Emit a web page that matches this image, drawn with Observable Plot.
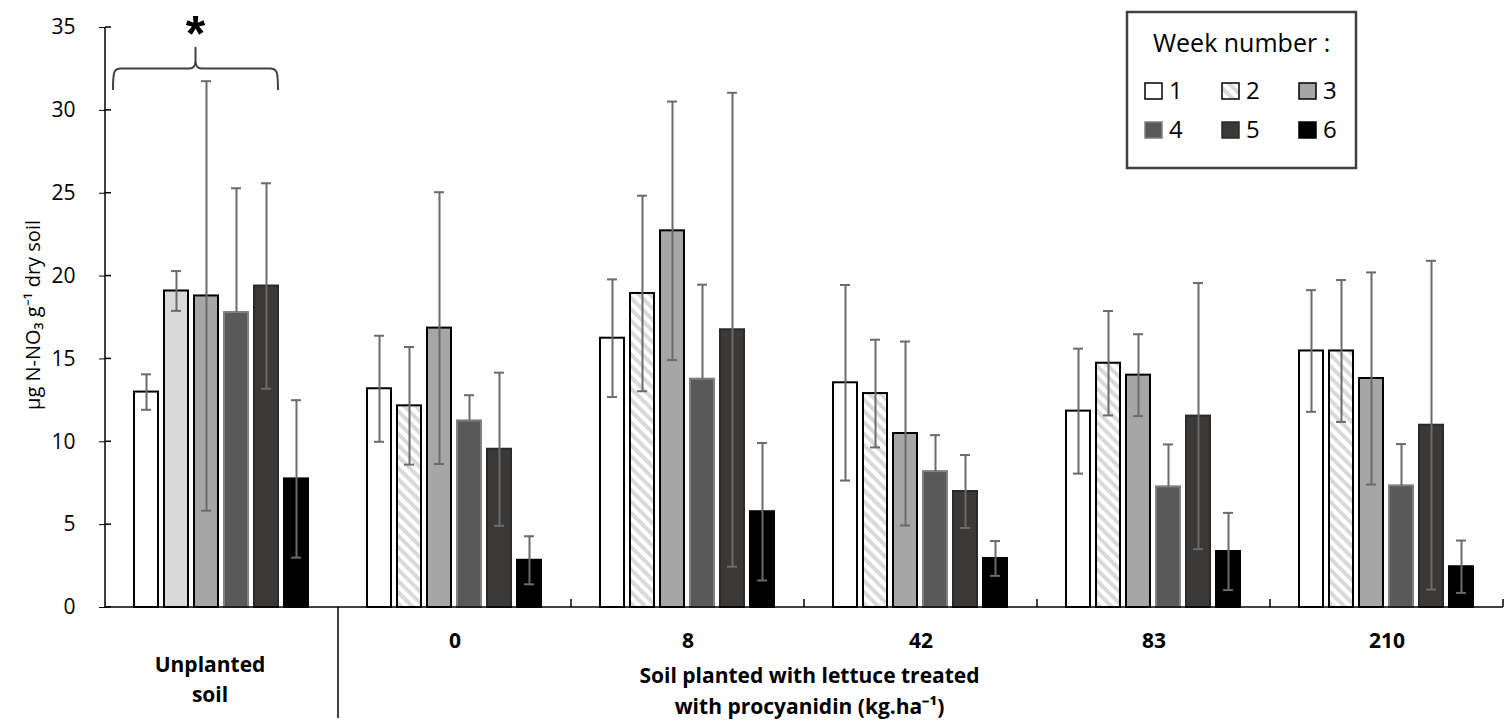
<!DOCTYPE html>
<html><head><meta charset="utf-8">
<script src="https://cdn.jsdelivr.net/npm/d3@7"></script>
<script src="https://cdn.jsdelivr.net/npm/@observablehq/plot@0.6"></script>
<style>
html,body{margin:0;padding:0;background:#fff;}
#chart{position:relative;width:1511px;height:728px;}
</style></head><body><div id="chart"></div>
<script>
// ---- data ----
const groups = ["Unplanted", "0", "8", "42", "83", "210"];
const weeks = [1, 2, 3, 4, 5, 6];
const unplantedMean = [13.0, 19.1, 18.8, 17.8, 19.4, 7.76];
const dose0Mean     = [13.2, 12.17, 16.86, 11.26, 9.55, 2.85];
const dose8Mean     = [16.25, 18.95, 22.73, 13.78, 16.76, 5.78];
const dose42Mean    = [13.56, 12.91, 10.5, 8.2, 7.0, 2.96];
const dose83Mean    = [11.85, 14.74, 14.02, 7.28, 11.55, 3.38];
const dose210Mean   = [15.48, 15.48, 13.82, 7.34, 11.0, 2.46];
const unplantedErr = [1.07, 1.2, 12.96, 7.5, 6.2, 4.75];
const dose0Err     = [3.2, 3.55, 8.2, 1.55, 4.62, 1.45];
const dose8Err     = [3.55, 5.9, 7.8, 5.7, 14.3, 4.15];
const dose42Err    = [5.9, 3.25, 5.55, 2.2, 2.2, 1.05];
const dose83Err    = [3.77, 3.15, 2.47, 2.56, 8.03, 2.33];
const dose210Err   = [3.67, 4.28, 6.4, 2.52, 9.92, 1.58];
const yTicks = [0, 5, 10, 15, 20, 25, 30, 35];
const unplantedLabel = "Unplanted\nsoil";
const doseLabels = ["0", "8", "42", "83", "210"];
const plantedTitle = "Soil planted with lettuce treated\nwith procyanidin (kg.ha\u207B\u00B9)";
const yLabel = "\u00B5g N-NO\u2083 g\u207B\u00B9 dry soil";
const legendTitle = "Week number :";
const significance = "*";

// ---- table ----
const means = [unplantedMean, dose0Mean, dose8Mean, dose42Mean, dose83Mean, dose210Mean];
const errs = [unplantedErr, dose0Err, dose8Err, dose42Err, dose83Err, dose210Err];
const rows = groups.flatMap((g, i) => weeks.map((w, j) => ({group: g, week: w, value: means[i][j], err: errs[i][j]})));

const weekFill = {1: "#ffffff", 2: "url(#hatch)", 3: "#a6a6a6", 4: "#595959", 5: "#3a3937", 6: "#000000"};
const weekStroke = {1: "#000000", 2: "#000000", 3: "#000000", 4: "#808080", 5: "#2a2a2a", 6: "#000000"};
const fillOf = d => (d.group === "Unplanted" && d.week === 2) ? "#d9d9d9" : weekFill[d.week];
const errColor = "#6b6b6b";

const chart = Plot.plot({
  width: 1511, height: 728,
  marginLeft: 105, marginRight: 8, marginTop: 27, marginBottom: 121,
  style: {fontFamily: "'Open Sans', sans-serif", fontSize: "21px", color: "#000", background: "#fff"},
  fx: {domain: groups, padding: 0, axis: null, label: null},
  x: {domain: weeks, paddingInner: 6 / 31, paddingOuter: 0.855, axis: null},
  y: {domain: [0, 35], ticks: yTicks, tickSize: 6, tickPadding: 24, label: null, tickFormat: d => String(d)},
  color: {type: "identity"},
  marks: [
    Plot.barY(rows, {fx: "group", x: "week", y: "value", fill: fillOf, stroke: d => weekStroke[d.week], strokeWidth: 2}),
    Plot.ruleX(rows, {fx: "group", x: "week", y1: d => d.week === 4 ? d.value : d.value - d.err, y2: d => d.value + d.err, stroke: errColor, strokeWidth: 2}),
    Plot.tickY(rows, {fx: "group", x: "week", y: d => d.value + d.err, stroke: errColor, strokeWidth: 2, insetLeft: 7, insetRight: 7}),
    Plot.tickY(rows.filter(d => d.week !== 4), {fx: "group", x: "week", y: d => d.value - d.err, stroke: errColor, strokeWidth: 2, insetLeft: 7, insetRight: 7}),
    Plot.text([{group: "Unplanted", label: unplantedLabel}], {fx: "group", text: "label", frameAnchor: "bottom", lineAnchor: "top", dy: 44, dx: -12, fontWeight: "bold", fontSize: 22, lineHeight: 1.4, fill: "#000"}),
    Plot.text(doseLabels.map(l => ({group: l, label: l})), {fx: "group", text: "label", frameAnchor: "bottom", lineAnchor: "top", dy: 26, fontWeight: "bold", fontSize: 21, fill: "#000"}),
    Plot.text([{group: "8", label: plantedTitle}], {fx: "group", text: "label", frameAnchor: "bottom-right", textAnchor: "middle", lineAnchor: "top", dy: 53, dx: 5, fontWeight: "bold", fontSize: 21, lineHeight: 1.5, fill: "#000"})
  ]
});
document.getElementById("chart").appendChild(chart);

// ---- scale helpers ----
function scaleFn(name) {
  const s = chart.scale(name);
  if (s.apply) return v => s.apply(v);
  if (s.type === "band" || s.type === "point") {
    const b = d3.scaleBand(s.domain, s.range);
    if (s.paddingInner != null) b.paddingInner(s.paddingInner);
    if (s.paddingOuter != null) b.paddingOuter(s.paddingOuter);
    if (s.align != null) b.align(s.align);
    return b;
  }
  return d3.scaleLinear(s.domain, s.range);
}
const fxS = chart.scale("fx"), xS = chart.scale("x");
const fxf = scaleFn("fx"), xf = scaleFn("x"), yf = scaleFn("y");
const bw = xS.bandwidth;
const barLeft = (g, w) => fxf(g) + xf(w) - xS.range[0];

const svg = d3.select(chart);
// enlarge y-axis tick labels (all texts lying in the left margin)
svg.selectAll("text").each(function () {
  const b = this.getBBox();
  if (b.x + b.width < 100) {
    this.style.setProperty("font-size", "21px", "important");
    if (this.parentNode) this.parentNode.style && this.parentNode.style.setProperty("font-size", "21px", "important");
  }
});

const defs = svg.insert("defs", ":first-child");
const pat = defs.append("pattern").attr("id", "hatch").attr("patternUnits", "userSpaceOnUse")
  .attr("width", 8).attr("height", 8).attr("patternTransform", "rotate(-45)");
pat.append("rect").attr("width", 8).attr("height", 8).attr("fill", "#fff");
pat.append("rect").attr("width", 4).attr("height", 8).attr("fill", "#d9d9d9");

const ov = svg.append("g").attr("fill", "none").attr("stroke", "#000");
const x0 = fxS.range[0], x1 = fxS.range[1], y0 = yf(0);
ov.append("line").attr("x1", x0).attr("x2", x0).attr("y1", yf(35)).attr("y2", y0).attr("stroke-width", 1.5);
yTicks.forEach(t => ov.append("line").attr("x1", x0).attr("x2", x0 + 6).attr("y1", yf(t)).attr("y2", yf(t)).attr("stroke-width", 1.5));
ov.append("line").attr("x1", x0).attr("x2", x1).attr("y1", y0).attr("y2", y0).attr("stroke-width", 1.5);
for (let i = 1; i <= groups.length; i++) {
  const xb = i < groups.length ? fxf(groups[i]) : x1;
  ov.append("line").attr("x1", xb).attr("x2", xb).attr("y1", i === 1 ? 718 : y0 - 8).attr("y2", y0).attr("stroke-width", 1.5);
}
// bracket
const L = barLeft("Unplanted", 1) - 21, R = barLeft("Unplanted", 5) + bw, M = (L + R) / 2;
const yb = yf(31.2), yh = yf(32.5), yt = yf(33.8);
ov.append("path").attr("stroke", "#404040").attr("stroke-width", 2)
  .attr("d", `M${L},${yb} C${L},${yh + 3} ${L + 1},${yh} ${L + 8},${yh} H${M - 6} C${M - 2},${yh} ${M},${yh - 2} ${M},${yh - 8} V${yt}` +
             `M${M},${yh - 8} C${M},${yh - 2} ${M + 2},${yh} ${M + 6},${yh} H${R - 8} C${R - 1},${yh} ${R},${yh + 3} ${R},${yb}`);
svg.append("text").attr("x", M).attr("y", yf(35.2) + 0.55 * 50)
  .style("text-anchor", "middle").style("font-family", "'Liberation Sans', sans-serif").style("font-weight", "bold").style("font-size", "50px")
  .attr("fill", "#000").text(significance);

// y label
svg.append("text").attr("transform", `translate(40,${(yf(35) + y0) / 2 - 2}) rotate(-90)`)
  .style("text-anchor", "middle").style("font-size", "20px").attr("fill", "#000").text(yLabel);

// legend
const lg = svg.append("g").style("text-anchor", "start");
lg.append("rect").attr("x", 1127).attr("y", 12).attr("width", 229).attr("height", 156).attr("fill", "#fff").attr("stroke", "#404040").attr("stroke-width", 2.5);
lg.append("text").attr("x", 1153).attr("y", 52).style("font-size", "25px").style("text-anchor", "start").attr("fill", "#000").text(legendTitle);
weeks.forEach((w, i) => {
  const col = i % 3, row = Math.floor(i / 3);
  const sx = 1145 + col * 77, sy = 83 + row * 39;
  lg.append("rect").attr("x", sx).attr("y", sy).attr("width", 17).attr("height", 16)
    .attr("fill", weekFill[w]).attr("stroke", weekStroke[w]).attr("stroke-width", 1.5);
  lg.append("text").attr("x", sx + 24).attr("y", sy + 16).style("font-size", "24px").style("text-anchor", "start").attr("fill", "#000").text(String(w));
});
</script></body></html>
